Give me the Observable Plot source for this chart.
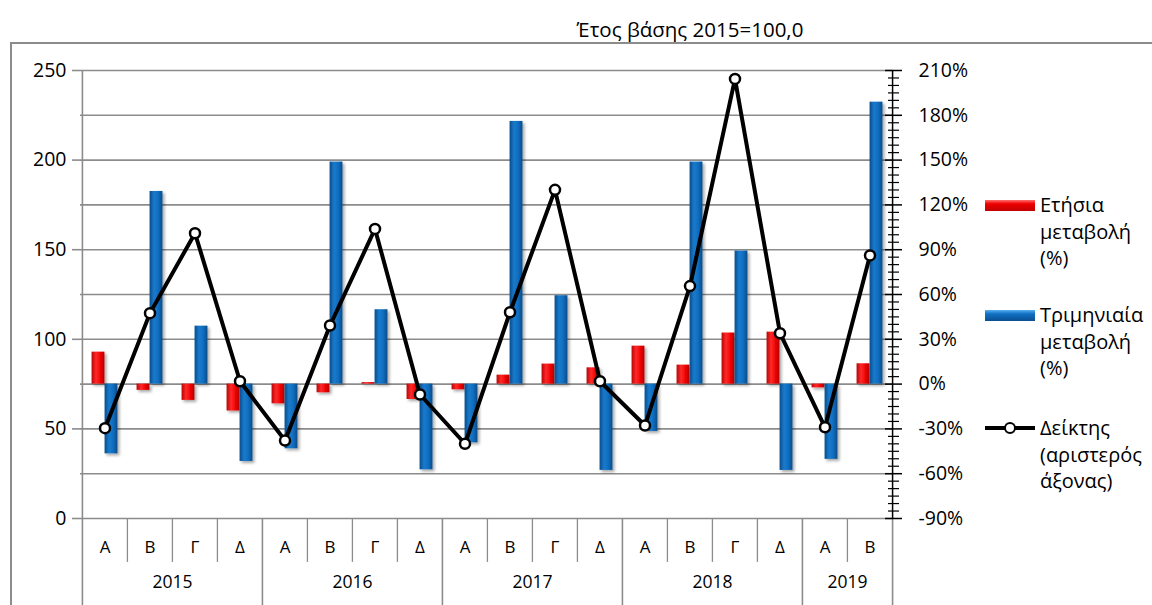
<!DOCTYPE html>
<html><head><meta charset="utf-8">
<script src="https://cdn.jsdelivr.net/npm/d3@7"></script>
<script src="https://cdn.jsdelivr.net/npm/@observablehq/plot@0.6"></script>
<style>
body{margin:0;background:#fff;font-family:"Open Sans",sans-serif;color:#000;}
#wrap{position:relative;width:1152px;height:605px;overflow:hidden;}
#frame{position:absolute;left:10px;top:42px;width:1300px;height:700px;border:2px solid #8c8c8c;box-sizing:border-box;}
#chart{position:absolute;left:0;top:0;}
#title{position:absolute;left:490px;width:400px;top:16px;text-align:center;font-size:20.5px;line-height:26px;}
.lt{position:absolute;left:1040px;font-size:20px;line-height:26.5px;}
.sw{position:absolute;left:985px;width:50px;height:11px;}
#sw1{top:200px;background:linear-gradient(#ff7070,#ee0000 35%,#c00000);}
#sw2{top:310px;background:linear-gradient(#5ab0f0,#1070c4 35%,#0a4f90);}
#ln{position:absolute;left:985px;top:426px;width:50px;height:4px;background:#000;}
#lc{position:absolute;left:1004px;top:422px;width:8px;height:8px;border:2.5px solid #000;border-radius:50%;background:#fff;}
</style></head>
<body><div id="wrap">
<div id="frame"></div>
<div id="chart"></div>
<div id="title">Έτος βάσης 2015=100,0</div>
<div id="sw1" class="sw"></div><div class="lt" style="top:192px">Ετήσια<br>μεταβολή<br>(%)</div>
<div id="sw2" class="sw"></div><div class="lt" style="top:302px">Τριμηνιαία<br>μεταβολή<br>(%)</div>
<div id="ln"></div><div id="lc"></div><div class="lt" style="top:415px">Δείκτης<br>(αριστερός<br>άξονας)</div>
</div>
<script>
const quarters = ["Α","Β","Γ","Δ","Α","Β","Γ","Δ","Α","Β","Γ","Δ","Α","Β","Γ","Δ","Α","Β"];
const years = ["2015","2015","2015","2015","2016","2016","2016","2016","2017","2017","2017","2017","2018","2018","2018","2018","2019","2019"];
const yearLabels = ["2015","2016","2017","2018","2019"];
const annualChange = [21.4,-4.2,-10.9,-18.0,-13.2,-5.8,1.0,-10.3,-3.8,6.0,13.4,10.9,25.4,12.7,34.2,34.8,-2.5,13.6];
const quarterlyChange = [-46.7,129.0,38.8,-51.8,-43.3,148.7,49.8,-57.4,-39.3,175.9,59.2,-57.8,-31.7,148.7,89.1,-57.8,-50.4,188.8];
const indexValues = [50.4,114.6,159.2,76.6,43.5,107.7,161.6,69.2,41.7,115.1,183.4,76.6,51.9,129.7,245.3,103.4,50.9,146.8];
const leftTicks = [0,50,100,150,200,250];
const gridTicks = [0,25,50,75,100,125,150,175,200,225,250];
const rightTicks = [-90,-60,-30,0,30,60,90,120,150,180,210];
const rightMinor = d3.range(-90, 211, 5).filter(p => p % 30 !== 0);

// right axis (%) mapped onto left axis: -90% -> 0, 210% -> 250
const toLeft = p => 75 + p * 250 / 300;
const toPct = v => (v - 75) * 300 / 250;

const W = 1152, H = 605, ML = 80, MR = 259, MT = 70, MB = 87;
const bw = (W - ML - MR) / quarters.length;
const barW = 13;
const data = quarters.map((q, i) => ({key: years[i] + "-" + q, q, year: years[i], annual: annualChange[i], quarterly: quarterlyChange[i], index: indexValues[i], first: i === 0 || years[i] !== years[i-1]}));
const keys = data.map(d => d.key);
const yearPos = yearLabels.map(y => { const ks = data.filter(d => d.year === y); return {year: y, key: ks[Math.floor((ks.length - 1) / 2)].key}; });
const last = keys[keys.length - 1];
const gray = "#8c8c8c";

const svg = Plot.plot({
  width: W, height: H, marginLeft: ML, marginRight: MR, marginTop: MT, marginBottom: MB,
  style: {fontFamily: "'Open Sans', sans-serif", fontSize: "19px", background: "transparent", overflow: "visible"},
  x: {type: "band", domain: keys, padding: 0, axis: null, label: null},
  y: {domain: [0, 250], axis: null, label: null},
  marks: [
    Plot.ruleY(gridTicks, {stroke: gray, strokeWidth: 1.6}),
    // quarter separators
    Plot.ruleX(data.filter(d => !d.first), {x: "key", dx: -bw/2, y1: () => 0, y2: () => -24.5, stroke: gray, strokeWidth: 1.3}),
    // year separators
    Plot.ruleX(data.filter(d => d.first), {x: "key", dx: -bw/2, y1: d => d.key === keys[0] ? 250 : 0, y2: () => -50, stroke: gray, strokeWidth: 1.6}),
    Plot.ruleX([last], {x: d => d, dx: bw/2, y1: () => 0, y2: () => -50, stroke: gray, strokeWidth: 1.6}),
    Plot.axisX({tickSize: 0, tickPadding: 22, tickFormat: k => k.split("-")[1], fontSize: 17, label: null}),
    Plot.text(yearPos, {x: "key", text: "year", dx: bw/2, frameAnchor: "bottom", dy: 69, fontSize: 17.5}),
    // bars
    Plot.barY(data, {x: "key", y1: () => toLeft(0), y2: d => toLeft(d.annual), fill: "#e00000", insetLeft: bw/2 - barW, insetRight: bw/2}),
    Plot.barY(data, {x: "key", y1: () => toLeft(0), y2: d => toLeft(d.quarterly), fill: "#0f6bbd", insetLeft: bw/2, insetRight: bw/2 - barW}),
    // index line
    Plot.line(data, {x: "key", y: "index", stroke: "#000", strokeWidth: 4, strokeLinejoin: "miter"}),
    Plot.dot(data, {x: "key", y: "index", r: 5, fill: "#fff", stroke: "#000", strokeWidth: 2.5}),
    // right axis
    Plot.ruleX([last], {x: d => d, dx: bw/2, y1: () => 0, y2: () => 250, stroke: "#000", strokeWidth: 1.5}),
    Plot.ruleY(rightTicks.map(toLeft), {insetLeft: W - ML - MR - 8, insetRight: -9, stroke: "#000", strokeWidth: 1.5}),
    Plot.ruleY(rightMinor.map(toLeft), {insetLeft: W - ML - MR - 5, insetRight: -6, stroke: "#000", strokeWidth: 1.2}),
    Plot.axisY(rightTicks.map(toLeft), {anchor: "right", tickSize: 0, tickPadding: 25, tickFormat: v => Math.round(toPct(v)) + "%", fontSize: 19.5, label: null}),
    // left axis
    Plot.axisY(leftTicks, {anchor: "left", tickSize: 8, tickPadding: 6, stroke: gray, strokeWidth: 1.6, fontSize: 19.5, label: null})
  ]
});

svg.insertAdjacentHTML("afterbegin", `<defs>
<linearGradient id="gRed" x1="0" x2="1" y1="0" y2="0"><stop offset="0" stop-color="#b80000"/><stop offset="0.35" stop-color="#ff2a2a"/><stop offset="0.7" stop-color="#ee0000"/><stop offset="1" stop-color="#b00000"/></linearGradient>
<linearGradient id="gBlue" x1="0" x2="1" y1="0" y2="0"><stop offset="0" stop-color="#0a4d8c"/><stop offset="0.35" stop-color="#1a7bcc"/><stop offset="0.7" stop-color="#0f6bbd"/><stop offset="1" stop-color="#084a86"/></linearGradient>
<filter id="sh" x="-30%" y="-10%" width="160%" height="130%"><feDropShadow dx="2" dy="2" stdDeviation="1.5" flood-color="#000" flood-opacity="0.35"/></filter>
</defs>`);
const bars = svg.querySelectorAll('g[aria-label="bar"]');
if (bars[0]) { bars[0].setAttribute("fill", "url(#gRed)"); bars[0].setAttribute("filter", "url(#sh)"); }
if (bars[1]) { bars[1].setAttribute("fill", "url(#gBlue)"); bars[1].setAttribute("filter", "url(#sh)"); }
document.getElementById("chart").appendChild(svg);
</script>
</body></html>
